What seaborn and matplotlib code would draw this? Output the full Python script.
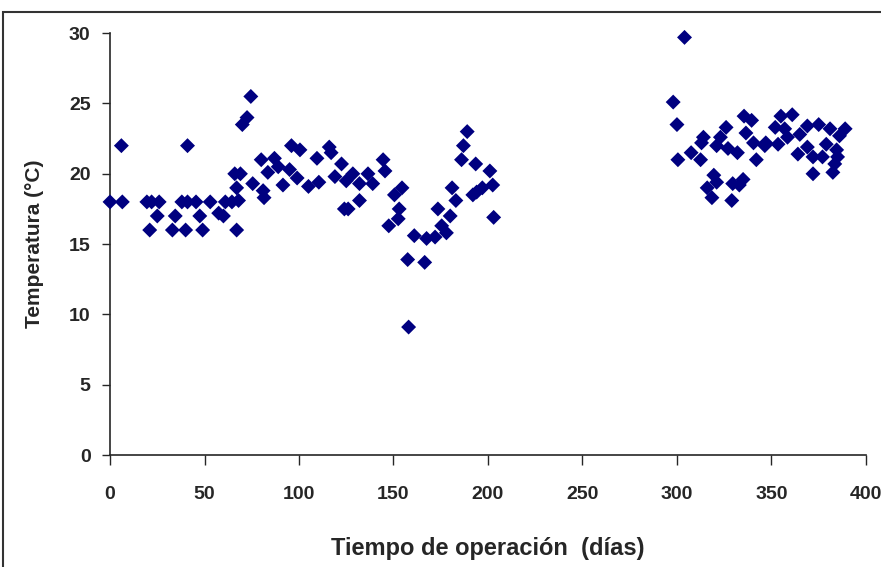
import numpy as np
import pandas as pd
import seaborn as sns
import matplotlib.pyplot as plt
from matplotlib.patches import Rectangle

# operation day and temperature
dias = [0, 6, 6.5, 19.5, 21, 22, 25, 26, 33, 34.5, 38, 40, 41, 41, 45.5, 47.5, 49,
        53, 57.5, 60, 61, 64.5, 66, 67, 67, 68, 69, 70, 72.5, 74.5, 75.5,
        80, 81, 81.5, 83.5, 87, 89, 91.5, 95, 96, 99, 100.5, 105, 109.5, 110.5,
        116, 117, 119, 122.5, 124, 125, 126, 128.5, 132, 132, 136.5, 139,
        144.5, 145.5, 147.5, 150.5, 152.5, 153, 154.5, 157.5, 158, 161, 166.5,
        167.5, 172, 173.5, 175.5, 178, 180, 181, 183, 186, 187, 189, 192, 193.5,
        194, 197, 201, 202.5, 203,
        298, 300, 300.5, 304, 307.5, 312.5, 313, 314, 316, 318.5, 319.5, 321,
        321, 323, 326, 327, 329, 329.5, 332, 333, 335, 335.5, 336.5, 339.5,
        340.5, 342, 346.5, 347, 352, 353.5, 355, 357, 358.5, 361, 364, 365,
        369, 369, 372, 372, 375, 377, 379, 381, 382.5, 383.5, 384.5, 385, 386,
        389]
temperatura = [18, 22, 18, 18, 16, 18, 17, 18, 16, 17, 18, 16, 22, 18, 18, 17, 16,
               18, 17.2, 17, 18, 18, 20, 19, 16, 18.1, 20, 23.5, 24, 25.5, 19.3,
               21, 18.8, 18.3, 20.1, 21.1, 20.5, 19.2, 20.3, 22, 19.7, 21.7, 19.1, 21.1, 19.4,
               21.9, 21.5, 19.8, 20.7, 17.5, 19.5, 17.5, 20, 19.3, 18.1, 20, 19.3,
               21, 20.2, 16.3, 18.5, 16.8, 17.5, 19, 13.9, 9.1, 15.6, 13.7,
               15.4, 15.5, 17.5, 16.3, 15.8, 17, 19, 18.1, 21, 22, 23, 18.5, 20.7,
               18.7, 19, 20.2, 19.2, 16.9,
               25.1, 23.5, 21, 29.7, 21.5, 21, 22.2, 22.6, 19, 18.3, 19.9, 19.4,
               22, 22.6, 23.3, 21.8, 18.1, 19.3, 21.5, 19.2, 19.6, 24.1, 22.9, 23.8,
               22.2, 21, 22, 22.2, 23.3, 22.1, 24.1, 23.2, 22.6, 24.2, 21.4, 22.8,
               23.4, 21.9, 21.2, 20, 23.5, 21.2, 22.1, 23.2, 20.1, 20.7, 21.7, 21.2, 22.7,
               23.2]

df = pd.DataFrame({"dias": dias, "temp": temperatura})

sns.set_style("ticks")
plt.rcParams['font.family'] = ['Liberation Sans', 'DejaVu Sans']
plt.rcParams['font.weight'] = 'bold'

fig = plt.figure(figsize=(8.81, 5.67), dpi=100)
ax = fig.add_axes([0.1249, 0.1975, 0.858, 0.744])

sns.scatterplot(data=df, x="dias", y="temp", marker="D", s=58,
                color="#000080", edgecolor="none", linewidth=0, ax=ax,
                clip_on=False, zorder=3)

ax.set_xlim(0, 400)
ax.set_ylim(0, 30)
ax.set_xticks(range(0, 401, 50))
ax.set_yticks(range(0, 31, 5))
sns.despine(ax=ax)
for sp in ax.spines.values():
    sp.set_linewidth(1.2)
ax.tick_params(axis="x", length=7, width=1, pad=15, labelsize=14)
ax.tick_params(axis="y", length=6, width=1, pad=8, labelsize=14)
for lab in ax.get_xticklabels() + ax.get_yticklabels():
    lab.set_fontweight("bold")

ax.set_xlabel("Tiempo de operación  (días)", fontsize=17, fontweight="bold", labelpad=25)
ax.set_ylabel("Temperatura (°C)", fontsize=15, fontweight="bold", labelpad=18)

# outer frame of the original slide
fig.patches.append(Rectangle((3 / 881, -0.05), 1.2, 1 - 12 / 567 + 0.05,
                             transform=fig.transFigure, fill=False,
                             edgecolor="#333333", linewidth=1.5))

fig.savefig("out.png", dpi=100)
